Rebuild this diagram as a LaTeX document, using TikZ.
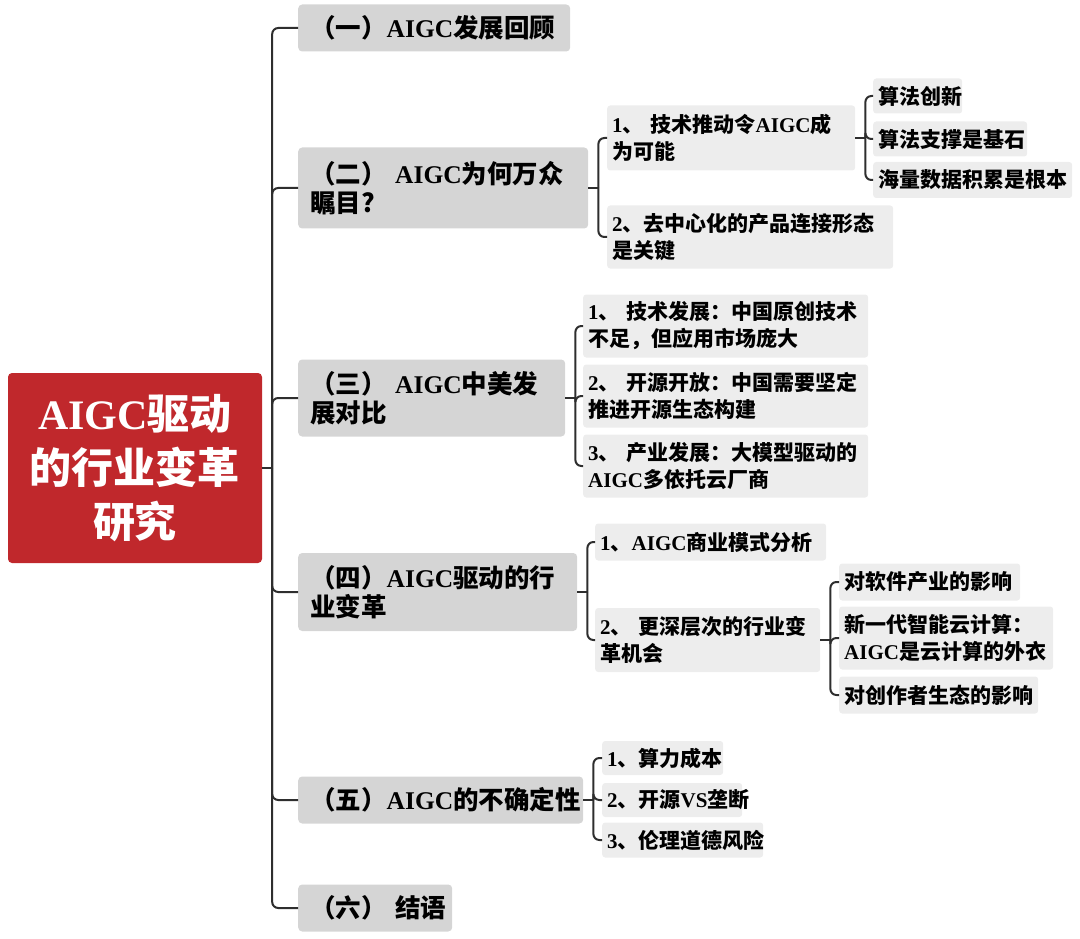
\documentclass[tikz,border=0pt]{standalone}
\usepackage{fontspec}
\setmainfont{Noto Sans CJK SC}
\newfontfamily\serifen{Liberation Serif}
\newcommand{\ltn}[1]{{\serifen\bfseries #1}}
\usepackage{tikz}
\usetikzlibrary{calc,positioning}

\definecolor{rootred}{HTML}{C0282C}
\definecolor{topicgray}{HTML}{D5D5D5}
\definecolor{subgray}{HTML}{EDEDED}
\definecolor{linegray}{HTML}{2E2E2E}

\begin{document}
\begin{tikzpicture}[x=1pt, y=-1pt,
    link/.style={draw=linegray, line width=2pt, rounded corners=6pt},
    rootbox/.style={fill=rootred, rounded corners=4pt, text=white, align=center,
        minimum width=254pt, minimum height=190pt,
        font=\fontsize{42}{54}\selectfont\bfseries},
    topicbox/.style={fill=topicgray, rounded corners=4pt, anchor=west, align=left,
        inner xsep=12pt, text width=#1, font=\fontsize{25.5}{29}\selectfont\bfseries},
    subbox/.style={fill=subgray, rounded corners=3pt, anchor=west, align=left,
        inner xsep=5pt, text width=#1, font=\fontsize{21}{27}\selectfont\bfseries}]

    \useasboundingbox (0,0) rectangle (1080,939);

    % Root
    \node[rootbox] (root) at (135,468) {\ltn{AIGC}驱动\\的行业变革\\研究};

    % Topics
    \node[topicbox=248pt, minimum height=47pt] (t1) at (298,28) {（一）\ltn{AIGC}发展回顾};
    \node[topicbox=266pt, minimum height=81pt] (t2) at (298,188) {（二） \ltn{AIGC}为何万众\\瞩目?};
    \node[topicbox=243pt, minimum height=77pt] (t3) at (298,398) {（三） \ltn{AIGC}中美发\\展对比};
    \node[topicbox=255pt, minimum height=78pt] (t4) at (298,592) {（四）\ltn{AIGC}驱动的行\\业变革};
    \node[topicbox=261pt, minimum height=47pt] (t5) at (298,800) {（五）\ltn{AIGC}的不确定性};
    \node[topicbox=130pt, minimum height=47pt] (t6) at (298,908) {（六）~结语};

    % (二)
    \node[subbox=238pt, minimum height=65pt] (a1) at (607,138) {\ltn{1}、 技术推动令\ltn{AIGC}成\\为可能};
    \node[subbox=276pt, minimum height=63pt] (a2) at (607,237) {\ltn{2}、去中心化的产品连接形态\\是关键};
    \node[subbox=79pt, minimum height=35pt] (a11) at (873,96) {算法创新};
    \node[subbox=144pt, minimum height=35pt] (a12) at (873,139) {算法支撑是基石};
    \node[subbox=189pt, minimum height=36pt] (a13) at (873,180) {海量数据积累是根本};

    % (三)
    \node[subbox=275pt, minimum height=63pt] (b1) at (583,326) {\ltn{1}、 技术发展：中国原创技术\\不足，但应用市场庞大};
    \node[subbox=275pt, minimum height=63pt] (b2) at (583,396) {\ltn{2}、 开源开放：中国需要坚定\\推进开源生态构建};
    \node[subbox=275pt, minimum height=63pt] (b3) at (583,466) {\ltn{3}、 产业发展：大模型驱动的\\\ltn{AIGC}多依托云厂商};

    % (四)
    \node[subbox=221pt, minimum height=37pt] (c1) at (595,542) {\ltn{1}、\ltn{AIGC}商业模式分析};
    \node[subbox=215pt, minimum height=64pt] (c2) at (595,640) {\ltn{2}、 更深层次的行业变\\革机会};
    \node[subbox=171pt, minimum height=37pt] (c21) at (839,582) {对软件产业的影响};
    \node[subbox=204pt, minimum height=63pt] (c22) at (839,638) {新一代智能云计算：\\\ltn{AIGC}是云计算的外衣};
    \node[subbox=189pt, minimum height=37pt] (c23) at (839,695) {对创作者生态的影响};

    % (五)
    \node[subbox=111pt, minimum height=34pt] (d1) at (602,758) {\ltn{1}、算力成本};
    \node[subbox=130pt, minimum height=34pt] (d2) at (602,800) {\ltn{2}、开源\ltn{VS}垄断};
    \node[subbox=151pt, minimum height=35pt] (d3) at (602,840) {\ltn{3}、伦理道德风险};

    % Connectors
    \coordinate (trunk) at ([xshift=10pt]root.east);
    \draw[link] (root.east) -- (trunk);
    \foreach \t in {t1,t2,t3,t4,t5,t6}
        \draw[link] (trunk) |- (\t.west);

    \foreach \p/\kids in {t2/{a1,a2}, a1/{a11,a12,a13}, t3/{b1,b2,b3},
                          t4/{c1,c2}, c2/{c21,c22,c23}, t5/{d1,d2,d3}} {
        \coordinate (fork) at ([xshift=10pt]\p.east);
        \draw[link] (\p.east) -- (fork);
        \foreach \k in \kids
            \draw[link] (fork) |- (\k.west);
    }
\end{tikzpicture}
\end{document}
